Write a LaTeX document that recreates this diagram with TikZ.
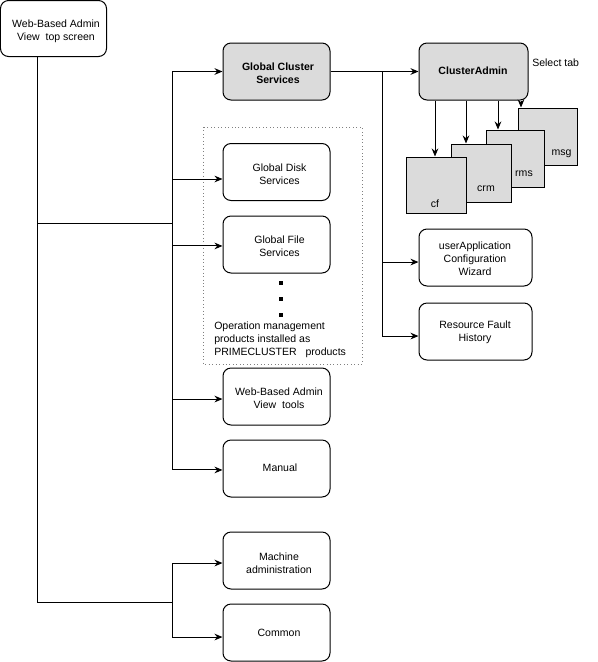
\documentclass[tikz,border=0pt]{standalone}
\usepackage{fontspec}
\setmainfont{Liberation Sans}
\usetikzlibrary{arrows.meta}
\begin{document}
\begin{tikzpicture}[x=0.75pt,y=-0.75pt,
  every node/.style={font=\fontsize{7.9}{9.75}\selectfont, inner sep=0pt},
  box/.style={draw=black, line width=0.75pt, rounded corners=6pt,
    minimum width=80.25pt, minimum height=42.75pt},
  gbox/.style={box, fill=gray!28},
  txt/.style={align=center},
  btxt/.style={align=center, font=\fontsize{7.9}{9.75}\selectfont\bfseries},
  tab/.style={draw=black, line width=0.75pt, fill=gray!28},
  arr/.style={line width=0.75pt, -{Stealth[length=6pt,width=5pt]}},
  ln/.style={line width=0.75pt}]
\useasboundingbox (0,0) rectangle (598,662);
% dotted group
\draw[gray, dotted, line width=0.6pt] (203,127) rectangle (362,364);
% boxes
\node[box, minimum width=79.5pt, minimum height=42pt] (top) at (53.5,28.5) {};
\node[gbox] (gcs) at (276.5,71.5) {};
\node[box] (gds) at (276.5,172) {};
\node[box] (gfs) at (276.5,244.5) {};
\node[box] (wbt) at (276.5,396.5) {};
\node[box] (man) at (276.5,468.5) {};
\node[box] (mach) at (276.5,560.5) {};
\node[box] (com) at (276.5,632.5) {};
\node[gbox, minimum width=81.75pt] (ca) at (473.5,71.5) {};
\node[box, minimum width=84.75pt] (ua) at (475.5,257.5) {};
\node[box, minimum width=84.75pt] (rfh) at (475.5,331.5) {};
% box texts
\node[txt] (topt) at (56,31) {Web-Based Admin\\View\ \ top screen};
\node[btxt] (gcst) at (278,73) {Global Cluster\\Services};
\node[txt] (gdst) at (279.5,174.5) {Global Disk\\Services};
\node[txt] (gfst) at (279.5,246.5) {Global File\\Services};
\node[txt] (wbtt) at (279,398.5) {Web-Based Admin\\View\ \ tools};
\node[txt] (mant) at (280,467.5) {Manual};
\node[txt] (macht) at (279,563.5) {Machine\\administration};
\node[txt] (comt) at (279,632.5) {Common};
\node[btxt] (cat) at (473,71) {ClusterAdmin};
\node[txt] (uat) at (475,258.5) {userApplication\\Configuration\\Wizard};
\node[txt] (rfht) at (475,332.5) {Resource Fault\\History};
% tabs
\node[tab, minimum width=44.25pt, minimum height=42.75pt] (msg) at (547.5,136.5) {};
\node[tab, minimum width=43.5pt, minimum height=42.75pt] (rms) at (515,158.5) {};
\node[tab, minimum width=45pt, minimum height=43.5pt] (crm) at (481,173) {};
\node[tab, minimum width=45pt, minimum height=42pt] (cf) at (436,185) {};
\node (msgl) at (561.5,153.5) {msg};
\node (rmsl) at (524,174) {rms};
\node (crml) at (486,188.5) {crm};
\node (cfl) at (435,203.5) {cf};
\node[anchor=west] (sel) at (532,62.5) {Select tab};
% dots and note
\fill (279,281) rectangle (283,285);
\fill (279,297) rectangle (283,301);
\fill (279,313) rectangle (283,317);
\node[anchor=west, align=left] (note) at (214,339.5) {Operation management\\products installed as\\PRIMECLUSTER\ \ \ products};
% connectors
\coordinate (j1) at (37,223);
\coordinate (j2) at (37,602);
\coordinate (bA) at (172,223);
\coordinate (bB) at (172,602);
\coordinate (bC) at (382,71.5);
\draw[ln] (top.south -| j1) -- (j2) -- (bB);
\draw[ln] (j1) -- (bA);
\draw[arr] (bA) |- (gcs.west);
\draw[arr] (bA) |- ([yshift=-5.25pt]gds.west);
\draw[arr] (bA) |- ([yshift=-1.1pt]gfs.west);
\draw[arr] (bA) |- ([yshift=-1.9pt]wbt.west);
\draw[arr] (bA) |- ([yshift=-1.1pt]man.west);
\draw[arr] (bB) |- ([yshift=-1.9pt]mach.west);
\draw[arr] (bB) |- ([yshift=-3.4pt]com.west);
\draw[arr] (gcs.east) -- (ca.west);
\draw[arr] (bC) |- ([yshift=-3.4pt]ua.west);
\draw[arr] (bC) |- ([yshift=-3.4pt]rfh.west);
\coordinate (t1) at (435,0);
\coordinate (t2) at (466,0);
\coordinate (t3) at (498,0);
\coordinate (t4) at (521,0);
\draw[arr] (ca.south -| t1) -- (cf.north -| t1);
\draw[arr] (ca.south -| t2) -- (crm.north -| t2);
\draw[arr] (ca.south -| t3) -- (rms.north -| t3);
\draw[arr] (ca.south -| t4) -- (msg.north -| t4);
\end{tikzpicture}
\end{document}
